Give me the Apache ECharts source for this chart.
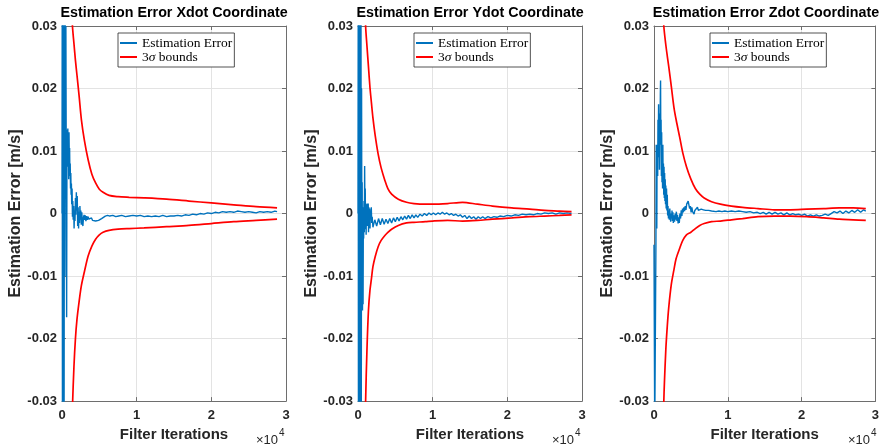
<!DOCTYPE html>
<html>
<head>
<meta charset="utf-8">
<script src="https://cdn.jsdelivr.net/npm/echarts@6/dist/echarts.min.js"></script>
<style>
html,body{margin:0;padding:0;background:#fff;}
#chart{width:882px;height:447px;}
</style>
</head>
<body>
<div id="chart"></div>
<script>
// ---------- data (iterations, values in m/s) ----------
const titles = ['Estimation Error Xdot Coordinate', 'Estimation Error Ydot Coordinate', 'Estimation Error Zdot Coordinate'];
const xTickLabels = ['0', '1', '2', '3'];
const seriesNames = ['Estimation Error', '3σ bounds'];

const boundIterX = [1200, 1400, 1600, 1800, 2000, 2300, 2600, 3000, 3500, 4000, 4500, 5000, 5500, 6300, 7500, 9000, 11000, 14000, 17000, 20000, 23000, 26000, 28800];
const upperX = [0.036, 0.030, 0.0272, 0.0245, 0.0222, 0.0187, 0.0150, 0.0117, 0.0086, 0.0063, 0.0049, 0.0039, 0.0034, 0.0029, 0.0027, 0.0026, 0.0025, 0.0023, 0.0020, 0.0017, 0.0014, 0.0011, 0.0009];
const lowerX = [-0.040, -0.031, -0.0245, -0.0200, -0.0170, -0.0140, -0.0115, -0.0093, -0.0068, -0.0052, -0.0041, -0.0034, -0.0030, -0.0027, -0.0025, -0.0024, -0.0023, -0.0021, -0.0019, -0.0016, -0.0013, -0.0011, -0.0009];

const boundIterY = [900, 1020, 1200, 1400, 1600, 1800, 2000, 2300, 2700, 3100, 3600, 4000, 4500, 5400, 6500, 7500, 9000, 10000, 12000, 14000, 16000, 18000, 20600, 23000, 25000, 27000, 28600];
const upperY = [0.036, 0.030, 0.0268, 0.0235, 0.0202, 0.0177, 0.0153, 0.0125, 0.0095, 0.0073, 0.0053, 0.0040, 0.0031, 0.0023, 0.0018, 0.0016, 0.0015, 0.0015, 0.0016, 0.0018, 0.0015, 0.0012, 0.0009, 0.0007, 0.0005, 0.0004, 0.0003];
const lowerY = [-0.040, -0.030, -0.0218, -0.0155, -0.0123, -0.0104, -0.0085, -0.0069, -0.0053, -0.0043, -0.0035, -0.0030, -0.0025, -0.0019, -0.0015, -0.0014, -0.0013, -0.0012, -0.0011, -0.0012, -0.0011, -0.0009, -0.0007, -0.0005, -0.0004, -0.0003, -0.0002];

const boundIterZ = [1100, 1330, 1600, 1800, 2000, 2350, 2700, 3000, 3500, 3900, 4400, 5000, 5600, 6200, 6800, 7800, 9000, 10500, 12000, 14100, 16300, 18500, 20700, 23000, 25100, 27000, 28700];
const upperZ = [0.036, 0.030, 0.0270, 0.0252, 0.0235, 0.0203, 0.0170, 0.0150, 0.0121, 0.0097, 0.0075, 0.0055, 0.0040, 0.0031, 0.0025, 0.0019, 0.0015, 0.0012, 0.0010, 0.0008, 0.0006, 0.0006, 0.0007, 0.0008, 0.0009, 0.0009, 0.0008];
const lowerZ = [-0.045, -0.030, -0.0218, -0.0180, -0.0150, -0.0113, -0.0090, -0.0072, -0.0055, -0.0043, -0.0034, -0.0030, -0.0024, -0.0019, -0.0016, -0.0013, -0.0012, -0.0010, -0.0008, -0.0005, -0.0004, -0.0004, -0.0005, -0.0007, -0.0009, -0.0010, -0.0011];

const errX = [[0,0.0],[30,0.034],[60,-0.034],[100,0.034],[130,-0.034],[170,0.034],[200,-0.034],[240,0.034],[280,-0.034],[330,0.034],[380,-0.01],[420,0.034],[470,0.012],[520,0.03],[570,0.008],[620,-0.0166],[660,0.008],[700,0.0134],[740,0.0075],[780,0.0136],[820,0.009],[860,0.0125],[900,0.0055],[940,0.0130],[980,0.0085],[1020,0.0105],[1060,0.0060],[1100,0.0080],[1140,0.0040],[1180,0.0065],[1220,0.0030],[1260,0.0048],[1300,0.0015],[1350,0.0040],[1400,-0.0005],[1450,0.0020],[1500,-0.0010],[1560,0.0012],[1620,-0.0024],[1680,0.0005],[1740,-0.0012],[1800,0.0025],[1860,-0.0002],[1920,0.0034],[1980,0.0005],[2040,0.0028],[2100,-0.0020],[2160,0.0010],[2220,-0.0024],[2280,0.0003],[2340,-0.0015],[2400,0.0012],[2460,-0.0010],[2520,0.0005],[2580,-0.0018],[2650,0.0002],[2720,-0.0013],[2800,-0.0020],[2880,-0.0006],[2960,-0.0002],[3040,-0.0010],[3120,-0.0003],[3200,-0.0012],[3300,-0.0004],[3400,-0.0010],[3500,-0.0005],[3600,-0.0009],[3700,-0.0006],[3800,-0.0010],[3950,-0.0007],[4100,-0.0011],[4300,-0.0008],[4500,-0.0012],[4700,-0.0009],[4900,-0.0011],[5100,-0.0013],[5300,-0.0008],[5500,-0.0005],[5800,-0.0004],[6100,-0.0003],[6400,-0.0004],[6800,-0.0003],[7200,-0.0005],[7600,-0.0004],[8000,-0.0003],[8500,-0.0005],[9000,-0.0004],[9500,-0.0003],[10000,-0.0004],[10500,-0.0003],[11000,-0.0005],[11500,-0.0004],[12000,-0.0005],[12500,-0.0004],[13000,-0.0005],[13500,-0.0003],[14000,-0.0005],[14500,-0.0004],[15000,-0.0004],[15500,-0.0003],[16000,-0.0004],[16500,-0.0002],[17000,-0.0003],[17500,-0.0001],[18000,-0.0002],[18500,0.0],[19000,-0.0001],[19500,0.0001],[20000,0.0],[20500,0.0002],[21000,0.0001],[21500,0.0003],[22000,0.0002],[22500,0.0003],[23000,0.0002],[23500,0.0004],[24000,0.0003],[24500,0.0002],[25000,0.0003],[25500,0.0002],[26000,0.0001],[26500,0.0003],[27000,0.0002],[27500,0.0003],[28000,0.0002],[28500,0.0004],[28800,0.0003]];

const errY = [[0,0.0],[30,0.034],[60,-0.034],[90,0.034],[120,-0.034],[150,0.034],[180,-0.034],[210,0.034],[240,-0.034],[270,0.034],[300,-0.034],[330,0.034],[360,-0.034],[400,0.034],[440,-0.034],[480,0.02],[520,-0.01],[560,0.005],[600,-0.0155],[640,-0.002],[680,-0.0145],[720,0.001],[760,-0.004],[800,0.002],[850,-0.003],[890,0.0076],[930,-0.001],[970,0.004],[1010,-0.0025],[1050,0.0012],[1090,-0.0034],[1130,0.0015],[1170,-0.0010],[1210,0.0016],[1250,-0.0020],[1290,0.0008],[1330,-0.0008],[1370,0.0016],[1410,-0.0030],[1460,0.0010],[1510,-0.0012],[1560,0.0008],[1610,-0.0024],[1660,0.0005],[1720,-0.0008],[1780,0.0010],[1840,-0.0015],[1900,-0.0005],[2000,-0.0022],[2250,-0.0010],[2500,-0.0020],[2750,-0.0008],[3000,-0.0018],[3250,-0.0008],[3500,-0.0017],[3750,-0.0009],[4000,-0.0016],[4250,-0.0008],[4500,-0.0015],[4750,-0.0007],[5000,-0.0013],[5250,-0.0006],[5500,-0.0012],[5750,-0.0005],[6000,-0.0010],[6250,-0.0004],[6500,-0.0009],[6750,-0.0003],[7000,-0.0008],[7250,-0.0002],[7500,-0.0007],[7750,-0.0002],[8000,-0.0006],[8300,-0.0001],[8600,-0.0004],[8900,0.0],[9200,-0.0003],[9500,0.0001],[9800,-0.0002],[10100,0.0001],[10400,-0.0002],[10700,0.0001],[11000,-0.0001],[11300,0.0002],[11600,-0.0001],[11900,0.0001],[12200,-0.0002],[12500,0.0],[12800,-0.0003],[13100,-0.0001],[13400,-0.0004],[13700,-0.0002],[14000,-0.0006],[14300,-0.0003],[14600,-0.0008],[14900,-0.0004],[15200,-0.0008],[15500,-0.0005],[15800,-0.0009],[16100,-0.0005],[16400,-0.0008],[16700,-0.0005],[17000,-0.0008],[17400,-0.0005],[17800,-0.0007],[18200,-0.0005],[18600,-0.0006],[19000,-0.0004],[19500,-0.0005],[20000,-0.0003],[20500,-0.0004],[21000,-0.0002],[21500,-0.0003],[22000,-0.0001],[22500,-0.0002],[23000,-0.0001],[23500,-0.0002],[24000,0.0],[24500,-0.0001],[25000,0.0001],[25500,0.0],[26000,0.0001],[26500,-0.0001],[27000,0.0001],[27500,0.0],[28000,0.0001],[28600,0.0]];

const errZ = [[0,-0.005],[100,-0.035],[200,-0.035],[260,-0.005],[300,0.011],[340,0.0095],[380,-0.0024],[420,0.011],[460,0.0105],[500,0.006],[540,0.0150],[580,0.0090],[620,0.0175],[660,0.0100],[700,0.0160],[740,0.0070],[780,0.0140],[820,0.0110],[860,0.0190],[890,0.0213],[920,0.0120],[960,0.0150],[1000,0.0060],[1040,0.0130],[1080,0.0050],[1120,0.0100],[1160,0.0040],[1200,0.0110],[1240,0.0045],[1280,0.0080],[1320,0.0030],[1360,0.0075],[1400,0.0025],[1440,0.0065],[1480,0.0020],[1520,0.0055],[1560,0.0015],[1600,0.0045],[1650,0.0008],[1700,0.0040],[1750,0.0005],[1800,0.0030],[1850,-0.0003],[1900,0.0012],[1960,-0.0008],[2020,0.0005],[2080,-0.0010],[2140,0.0008],[2200,-0.0005],[2260,-0.0013],[2320,0.0],[2380,-0.0008],[2440,0.0005],[2500,-0.0012],[2560,0.0002],[2620,-0.0015],[2700,-0.0003],[2790,-0.0013],[2870,0.0],[2950,-0.0010],[3030,0.0003],[3110,-0.0012],[3190,-0.0002],[3270,-0.0016],[3350,-0.0006],[3430,-0.0015],[3510,0.0],[3600,-0.0008],[3690,0.0005],[3780,-0.0004],[3870,0.0008],[3960,0.0002],[4050,0.0010],[4140,0.0004],[4230,0.0012],[4330,0.0006],[4430,0.0015],[4530,0.0012],[4630,0.0020],[4730,0.0017],[4830,0.0008],[4930,0.0012],[5030,0.0002],[5130,0.0010],[5230,0.0003],[5330,0.0006],[5430,-0.0001],[5530,0.0005],[5650,0.0002],[5770,0.0006],[5890,0.0010],[6010,0.0005],[6130,0.0008],[6250,0.0004],[6400,0.0007],[6550,0.0004],[6700,0.0006],[6850,0.0004],[7000,0.0005],[7200,0.0003],[7400,0.0005],[7600,0.0003],[7800,0.0004],[8000,0.0004],[8400,0.0003],[8800,0.0004],[9200,0.0003],[9600,0.0004],[10000,0.0003],[10500,0.0004],[11000,0.0003],[11500,0.0004],[12000,0.0003],[12500,0.0002],[13000,0.0003],[13500,0.0001],[14000,0.0002],[14400,0.0],[14800,0.0002],[15200,-0.0001],[15600,0.0002],[16000,-0.0001],[16400,0.0002],[16800,-0.0001],[17200,0.0001],[17600,-0.0002],[18000,0.0001],[18400,-0.0002],[18800,0.0],[19200,-0.0002],[19600,-0.0001],[20000,-0.0003],[20400,-0.0001],[20800,-0.0004],[21200,-0.0002],[21600,-0.0004],[22000,-0.0002],[22400,-0.0004],[22800,-0.0003],[23200,-0.0001],[23600,-0.0003],[24000,0.0],[24400,0.0003],[24800,0.0001],[25200,0.0004],[25600,0.0],[26000,0.0004],[26400,0.0001],[26800,0.0005],[27200,0.0002],[27600,0.0006],[28000,0.0002],[28400,0.0006],[28700,0.0004]];

// ---------- chart ----------
const panels = [
  {err: errX, bIter: boundIterX, up: upperX, lo: lowerX},
  {err: errY, bIter: boundIterY, up: upperY, lo: lowerY},
  {err: errZ, bIter: boundIterZ, up: upperZ, lo: lowerZ}
];
const lefts = [62, 358, 654];
const gridW = 224, gridTop = 26, gridH = 380;
const SANS = '"Liberation Sans", Arial, Helvetica, sans-serif';
const SERIF = '"Liberation Serif", "Times New Roman", serif';
const axisCol = '#6e6e6e';
const gridCol = '#e3e3e3';
const txtCol = '#262626';

const zip = (xs, ys) => xs.map((x, i) => [x, ys[i]]);
const yFmt = v => { const r = Math.round(v * 100) / 100; return String(r === 0 ? 0 : r); };

const option = {
  animation: false,
  backgroundColor: '#fff',
  title: [], grid: [], xAxis: [], yAxis: [], series: [], legend: [], graphic: []
};

panels.forEach((p, i) => {
  const L = lefts[i];
  option.grid.push({left: L, top: gridTop, width: gridW, height: gridH, containLabel: false});
  option.title.push({
    text: titles[i], left: L + gridW / 2, top: 6, textAlign: 'center', padding: 0,
    textStyle: {fontFamily: SANS, fontWeight: 'bold', fontSize: 14.3, color: '#000'}
  });
  option.xAxis.push({
    type: 'value', gridIndex: i, min: 0, max: 30000, interval: 10000, position: 'bottom',
    axisLine: {show: true, onZero: false, lineStyle: {color: axisCol, width: 1}},
    axisTick: {show: true, inside: true, length: 4, lineStyle: {color: axisCol}},
    axisLabel: {formatter: v => xTickLabels[Math.round(v / 10000)], fontFamily: SANS, fontWeight: 'bold', fontSize: 13, color: txtCol, margin: 8},
    splitLine: {show: true, lineStyle: {color: gridCol, width: 1}},
    name: 'Filter Iterations', nameLocation: 'middle', nameGap: 23,
    nameTextStyle: {fontFamily: SANS, fontWeight: 'bold', fontSize: 15, color: txtCol}
  });
  option.xAxis.push({
    type: 'value', gridIndex: i, min: 0, max: 30000, interval: 10000, position: 'top',
    axisLine: {show: true, onZero: false, lineStyle: {color: axisCol, width: 1}},
    axisTick: {show: true, inside: true, length: 4, lineStyle: {color: axisCol}},
    axisLabel: {show: false}, splitLine: {show: false}
  });
  option.yAxis.push({
    type: 'value', gridIndex: i, min: -0.03, max: 0.03, interval: 0.01, position: 'left',
    axisLine: {show: true, onZero: false, lineStyle: {color: axisCol, width: 1}},
    axisTick: {show: true, inside: true, length: 4, lineStyle: {color: axisCol}},
    axisLabel: {formatter: yFmt, fontFamily: SANS, fontWeight: 'bold', fontSize: 13, color: txtCol, margin: 5},
    splitLine: {show: true, lineStyle: {color: gridCol, width: 1}},
    name: 'Estimation Error [m/s]', nameLocation: 'middle', nameGap: 36, nameRotate: 90,
    nameTextStyle: {fontFamily: SANS, fontWeight: 'bold', fontSize: 16, color: txtCol}
  });
  option.yAxis.push({
    type: 'value', gridIndex: i, min: -0.03, max: 0.03, interval: 0.01, position: 'right',
    axisLine: {show: true, onZero: false, lineStyle: {color: axisCol, width: 1}},
    axisTick: {show: true, inside: true, length: 4, lineStyle: {color: axisCol}},
    axisLabel: {show: false}, splitLine: {show: false}
  });
  const xi = 2 * i, yi = 2 * i;
  option.series.push({
    name: seriesNames[0], type: 'line', xAxisIndex: xi, yAxisIndex: yi,
    data: p.err, showSymbol: false, symbol: 'none', color: '#0072BD',
    lineStyle: {color: '#0072BD', width: 1.4}, z: 2
  });
  option.series.push({
    name: seriesNames[1], type: 'line', xAxisIndex: xi, yAxisIndex: yi, smooth: 0.3,
    data: zip(p.bIter, p.up), showSymbol: false, symbol: 'none', color: '#FF0000',
    lineStyle: {color: '#FF0000', width: 1.7}, z: 3
  });
  option.series.push({
    name: seriesNames[1], type: 'line', xAxisIndex: xi, yAxisIndex: yi, smooth: 0.3,
    data: zip(p.bIter, p.lo), showSymbol: false, symbol: 'none', color: '#FF0000',
    lineStyle: {color: '#FF0000', width: 1.7}, z: 3
  });
  option.legend.push({
    data: seriesNames, orient: 'vertical', left: L + 56, top: 33,
    backgroundColor: '#fff', borderColor: '#262626', borderWidth: 0.8,
    padding: [3, 2, 3, 2], itemGap: 0, itemWidth: 17, itemHeight: 2, icon: 'rect',
    itemTextGap: 1, selectedMode: false,
    formatter: n => n === seriesNames[1] ? '3{i|σ} bounds' : n,
    textStyle: {fontFamily: SERIF, fontSize: 13.5, color: '#000', lineHeight: 13,
      rich: {i: {fontFamily: SERIF, fontSize: 13.5, fontStyle: 'italic', color: '#000', lineHeight: 13}}}
  });
  option.graphic.push({
    type: 'text', x: L + gridW - 8, y: 440,
    style: {text: '×10', fontFamily: SANS, fontSize: 13, fill: txtCol, align: 'right', verticalAlign: 'middle'}
  });
  option.graphic.push({
    type: 'text', x: L + gridW - 7, y: 433,
    style: {text: '4', fontFamily: SANS, fontSize: 10, fill: txtCol, align: 'left', verticalAlign: 'middle'}
  });
});

const chart = echarts.init(document.getElementById('chart'), null, {renderer: 'canvas'});
chart.setOption(option);
</script>
</body>
</html>
